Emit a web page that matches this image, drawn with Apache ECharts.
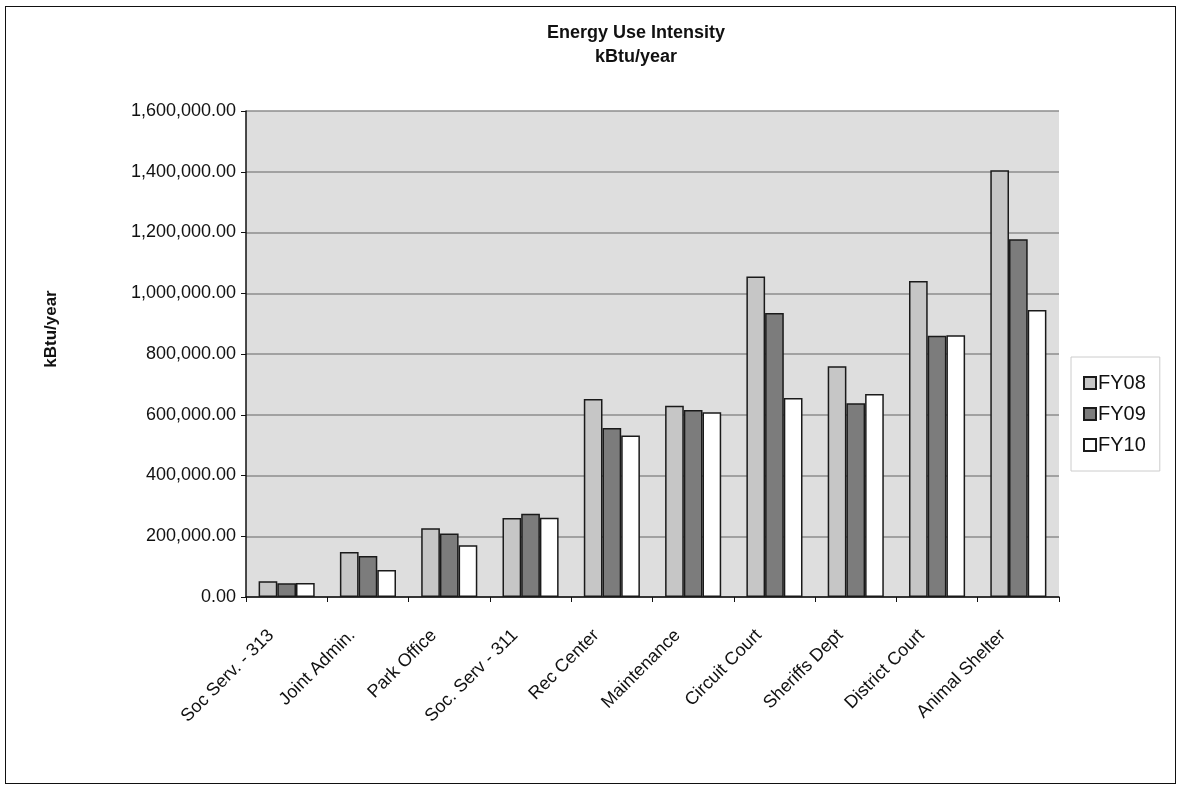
<!DOCTYPE html>
<html>
<head>
<meta charset="utf-8">
<script src="https://cdn.jsdelivr.net/npm/echarts@6/dist/echarts.min.js"></script>
<style>
  html, body { margin: 0; padding: 0; background: #fff; }
  #chart { position: absolute; left: 5px; top: 6px; width: 1171px; height: 778px; border: 1.5px solid #111; box-sizing: border-box; }
</style>
</head>
<body>
<div id="chart"></div>
<script>
// buildings along the x axis
const buildings = ['Soc Serv. - 313', 'Joint Admin.', 'Park Office', 'Soc. Serv - 311', 'Rec Center',
  'Maintenance', 'Circuit Court', "Sheriffs Dept", 'District Court', 'Animal Shelter']

// kBtu/year
const fy08 = [52000, 148000, 226000, 260000, 652000, 630000, 1055000, 760000, 1040000, 1405000]
const fy09 = [45000, 135000, 209000, 274000, 556000, 616000, 935000, 638000, 860000, 1178000]
const fy10 = [46000, 89000, 170000, 261000, 532000, 608000, 655000, 668000, 862000, 945000]

const yTicks = { min: 0, max: 1600000, interval: 200000 }

const font = 'Liberation Sans, Arial, sans-serif'

// 1,600,000.00 style labels
function fmt(v) {
  return Number(v).toLocaleString('en-US', { minimumFractionDigits: 2, maximumFractionDigits: 2 })
}

const chart = echarts.init(document.getElementById('chart'))

const barStyle = (fill) => ({ color: fill, borderColor: '#1a1a1a', borderWidth: 1.5 })

chart.setOption({
  animation: false,
  textStyle: { fontFamily: font },
  title: {
    text: 'Energy Use Intensity\nkBtu/year',
    left: 625, top: 9, textAlign: 'center',
    textStyle: { fontSize: 18, fontWeight: 'bold', color: '#111', lineHeight: 24, fontFamily: font }
  },
  legend: {
    orient: 'vertical',
    left: 1065, top: 350,
    padding: [16, 14, 16, 12],
    icon: 'rect',
    itemWidth: 12, itemHeight: 12, itemGap: 11,
    borderColor: '#ccc', borderWidth: 1,
    textStyle: { fontSize: 20, color: '#111', fontFamily: font, padding: [0, 0, 0, -3] },
    data: ['FY08', 'FY09', 'FY10']
  },
  grid: { left: 240, right: 116, top: 104, bottom: 186, show: true, backgroundColor: '#dedede', borderWidth: 0 },
  xAxis: {
    type: 'category',
    data: buildings,
    axisLine: { lineStyle: { color: '#111', width: 1.5 } },
    axisTick: { show: true, length: 5, lineStyle: { color: '#111' } },
    axisLabel: { rotate: 45, fontSize: 18, color: '#111', margin: 20, padding: [0, 22, 0, 0], interval: 0, fontFamily: font }
  },
  yAxis: {
    type: 'value',
    min: yTicks.min, max: yTicks.max, interval: yTicks.interval,
    name: 'kBtu/year',
    nameLocation: 'middle',
    nameGap: 186,
    nameTextStyle: { fontSize: 17, fontWeight: 'bold', color: '#111', fontFamily: font, padding: [0, 0, 0, 50] },
    axisLine: { show: true, lineStyle: { color: '#111', width: 1.5 } },
    axisTick: { show: true, length: 5, lineStyle: { color: '#111' } },
    splitLine: { lineStyle: { color: '#8c8c8c', width: 1.5 } },
    axisLabel: { fontSize: 18, color: '#111', margin: 10, formatter: fmt, fontFamily: font }
  },
  series: [
    { name: 'FY08', type: 'bar', data: fy08, barGap: '0%', barCategoryGap: '31%', itemStyle: barStyle('#c6c6c6') },
    { name: 'FY09', type: 'bar', data: fy09, barGap: '0%', barCategoryGap: '31%', itemStyle: barStyle('#7c7c7c') },
    { name: 'FY10', type: 'bar', data: fy10, barGap: '0%', barCategoryGap: '31%', itemStyle: barStyle('#ffffff') }
  ]
})
</script>
</body>
</html>
